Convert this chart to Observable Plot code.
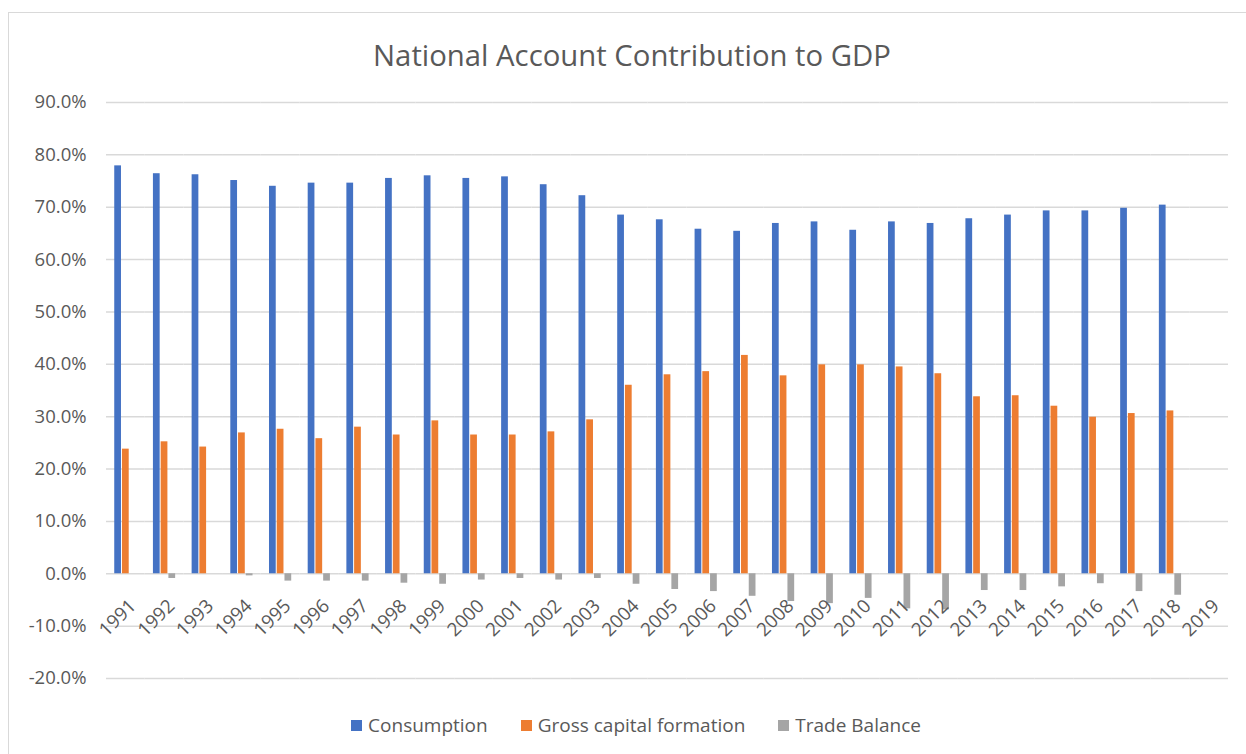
<!DOCTYPE html>
<html>
<head>
<meta charset="utf-8">
<script src="https://cdn.jsdelivr.net/npm/d3@7"></script>
<script src="https://cdn.jsdelivr.net/npm/@observablehq/plot@0.6"></script>
<style>
  html, body { margin: 0; padding: 0; background: #fff; }
  #wrap { position: relative; width: 1246px; height: 754px; overflow: hidden; font-family: "Open Sans", sans-serif; color: #595959; }
  #frame { position: absolute; left: 8px; top: 12px; width: 1248px; height: 760px; border: 1.5px solid #d9d9d9; box-sizing: border-box; }
  #title { position: absolute; left: 8px; width: 1248px; top: 35px; text-align: center; font-size: 29.3px; line-height: 40px; color: #595959; }
  #chart { position: absolute; left: 0; top: 80px; }
  #legend { position: absolute; left: 12px; width: 1248px; top: 712px; display: flex; justify-content: center; align-items: center; font-size: 19px; line-height: 26px; color: #595959; }
  .item { display: flex; align-items: center; margin: 0 16.5px; }
  .sw { width: 11px; height: 11px; margin-right: 6px; }
</style>
</head>
<body>
<div id="wrap">
  <div id="frame"></div>
  <div id="title">National Account Contribution to GDP</div>
  <div id="chart"></div>
  <div id="legend"></div>
</div>
<script>
const years = ["1991","1992","1993","1994","1995","1996","1997","1998","1999","2000",
               "2001","2002","2003","2004","2005","2006","2007","2008","2009","2010",
               "2011","2012","2013","2014","2015","2016","2017","2018","2019"];
// values in percent of GDP (1991–2018; 2019 has no data)
const consumption = [77.9, 76.4, 76.2, 75.1, 74.0, 74.6, 74.6, 75.5, 76.0, 75.5,
                     75.8, 74.3, 72.2, 68.5, 67.6, 65.8, 65.4, 66.9, 67.2, 65.6,
                     67.2, 66.9, 67.8, 68.5, 69.3, 69.3, 69.8, 70.4, null];
const grossCapital = [23.8, 25.2, 24.2, 26.9, 27.6, 25.8, 28.0, 26.5, 29.2, 26.5,
                      26.5, 27.1, 29.4, 36.0, 38.0, 38.6, 41.7, 37.8, 39.9, 39.9,
                      39.5, 38.2, 33.8, 34.0, 32.0, 29.9, 30.6, 31.1, null];
const tradeBalance = [0.0, -0.9, 0.0, -0.4, -1.4, -1.4, -1.4, -1.8, -2.0, -1.2,
                      -0.9, -1.2, -0.9, -2.0, -3.0, -3.4, -4.3, -5.3, -5.7, -4.7,
                      -6.7, -6.9, -3.2, -3.2, -2.5, -1.9, -3.4, -4.1, null];
const seriesNames = ["Consumption", "Gross capital formation", "Trade Balance"];
const seriesColors = ["#4472C4", "#ED7D31", "#A5A5A5"];
const yTicks = [-0.2, -0.1, 0, 0.1, 0.2, 0.3, 0.4, 0.5, 0.6, 0.7, 0.8, 0.9];

const seriesValues = [consumption, grossCapital, tradeBalance];
const rows = [];
years.forEach((yr, i) => {
  seriesValues.forEach((arr, j) => {
    if (arr[i] != null) rows.push({year: yr, series: seriesNames[j], value: arr[i] / 100});
  });
});
const labelRows = years.map(yr => ({year: yr, zero: 0}));
const pct = d3.format(".1%");

const chart = Plot.plot({
  width: 1246,
  height: 618,
  marginTop: 22,
  marginBottom: 20,
  marginLeft: 106,
  marginRight: 18,
  style: {fontFamily: "'Open Sans', sans-serif", fontSize: "18.5px", color: "#595959", background: "transparent", overflow: "visible"},
  fx: {domain: years, padding: 0, round: false, axis: null, label: null},
  x: {domain: seriesNames, paddingInner: 0, paddingOuter: 1, round: false, axis: null},
  y: {domain: [-0.2, 0.9], ticks: yTicks, tickFormat: d => pct(d).replace("\u2212", "-"), tickSize: 0, tickPadding: 20, label: null},
  color: {domain: seriesNames, range: seriesColors},
  marks: [
    Plot.ruleY(yTicks, {stroke: "#d9d9d9", strokeWidth: 1.5}),
    Plot.barY(rows, {fx: "year", x: "series", y: "value", fill: "series", insetLeft: 0.5, insetRight: 0.5}),
    Plot.text(labelRows, {fx: "year", y: "zero", text: "year", rotate: -45, textAnchor: "end", dx: 7, dy: 29, fill: "#595959", fontSize: 18.8})
  ]
});
document.getElementById("chart").appendChild(chart);

const legend = document.getElementById("legend");
seriesNames.forEach((name, i) => {
  const item = document.createElement("div");
  item.className = "item";
  const sw = document.createElement("div");
  sw.className = "sw";
  sw.style.background = seriesColors[i];
  const label = document.createElement("span");
  label.textContent = name;
  item.appendChild(sw);
  item.appendChild(label);
  legend.appendChild(item);
});
</script>
</body>
</html>
